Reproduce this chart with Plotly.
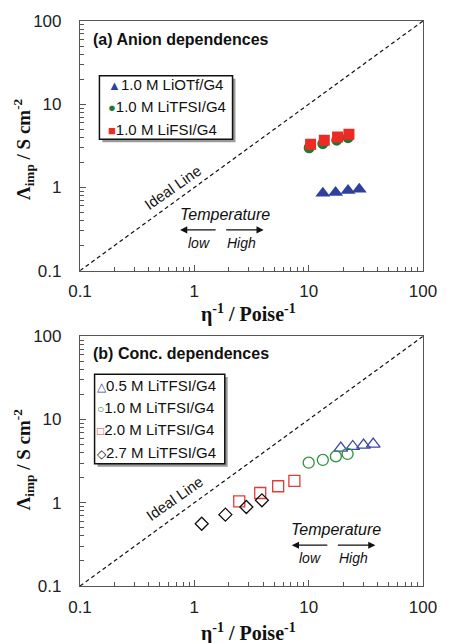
import plotly.graph_objects as go

# ---- data: Walden-type plot, molar conductivity vs. fluidity ----
# (a) anion dependence, 1.0 M salts in G4
a_names = ["1.0 M LiOTf/G4", "1.0 M LiTFSI/G4", "1.0 M LiFSI/G4"]
a_otf_x = [13.3, 17.2, 22.1, 27.7]
a_otf_y = [0.85, 0.87, 0.92, 0.95]
a_tfsi_x = [10.1, 13.3, 17.6, 22.1]
a_tfsi_y = [3.0, 3.36, 3.7, 3.96]
a_fsi_x = [10.4, 13.7, 17.9, 22.5]
a_fsi_y = [3.3, 3.68, 4.03, 4.37]

# (b) concentration dependence, LiTFSI in G4
b_names = ["0.5 M LiTFSI/G4", "1.0 M LiTFSI/G4", "2.0 M LiTFSI/G4", "2.7 M LiTFSI/G4"]
b_05_x = [19.1, 24.3, 30.2, 36.7]
b_05_y = [4.54, 4.75, 4.93, 5.07]
b_10_x = [10.0, 13.3, 17.3, 21.9]
b_10_y = [3.03, 3.27, 3.61, 3.86]
b_20_x = [2.47, 3.77, 5.41, 7.5]
b_20_y = [1.04, 1.31, 1.58, 1.83]
b_27_x = [1.16, 1.87, 2.85, 3.90]
b_27_y = [0.56, 0.72, 0.89, 1.07]

# ideal Walden line (slope 1 through the origin of the log-log frame)
ideal = [0.1, 100]

tick_vals = [0.1, 1, 10, 100]
tick_text = ["0.1", "1", "10", "100"]

# ---- figure geometry (pixels) ----
W, H = 449, 643
ML, MR, MT, MB = 80, 16, 18, 57
PW, PH = W - ML - MR, H - MT - MB


def px(X):
    return (X - ML) / PW


def py(Y):
    return 1 - (Y - MT) / PH


SANS = "Liberation Sans, Arial, sans-serif"
SERIF = "Liberation Serif, Times New Roman, serif"
AXIS_COLOR = "#555555"

minor_vals = [k * 10 ** e for e in (-1, 0, 1) for k in range(2, 10)]

fig = go.Figure()

panels = [
    ("x", "y", [
        (a_otf_x, a_otf_y, a_names[0], "triangle-up", "#2f3f9e", 13, 0),
        (a_tfsi_x, a_tfsi_y, a_names[1], "circle", "#1c7a33", 11, 0),
        (a_fsi_x, a_fsi_y, a_names[2], "square", "#ee2a24", 11, 0),
    ]),
    ("x2", "y2", [
        (b_05_x, b_05_y, b_names[0], "triangle-up-open", "#3a48aa", 12, 1.3),
        (b_10_x, b_10_y, b_names[1], "circle-open", "#2e9040", 11, 1.3),
        (b_20_x, b_20_y, b_names[2], "square-open", "#e53a3a", 11, 1.3),
        (b_27_x, b_27_y, b_names[3], "diamond-open", "#111111", 10, 1.3),
    ]),
]

for xa, ya, series in panels:
    fig.add_trace(go.Scatter(
        x=ideal, y=ideal, mode="lines", xaxis=xa, yaxis=ya,
        line=dict(color="#111111", width=1.2, dash="4px,3px"),
        showlegend=False, hoverinfo="skip"))
    for xs, ys, name, sym, col, size, lw in series:
        fig.add_trace(go.Scatter(
            x=xs, y=ys, mode="markers", name=name, xaxis=xa, yaxis=ya,
            marker=dict(symbol=sym, color=col, size=size,
                        line=dict(color=col, width=lw)),
            showlegend=False))

axis_common = dict(
    type="log", range=[-1, 2], showgrid=False, zeroline=False,
    showline=True, linecolor=AXIS_COLOR, linewidth=1.2, mirror=True,
    ticks="inside", ticklen=6, tickwidth=1, tickcolor=AXIS_COLOR,
    tickvals=tick_vals, ticktext=tick_text,
    tickfont=dict(family=SANS, size=17, color="#222222"),
    minor=dict(tickvals=minor_vals, ticks="inside", ticklen=4,
               tickwidth=1, tickcolor=AXIS_COLOR),
)

top_dom = [py(269), 1.0]
bot_dom = [0.0, py(335)]

fig.update_layout(
    width=W, height=H,
    margin=dict(l=ML, r=MR, t=MT, b=MB, pad=0),
    paper_bgcolor="white", plot_bgcolor="white",
    showlegend=False,
    xaxis=dict(axis_common, anchor="y", ticklabelstandoff=5),
    yaxis=dict(axis_common, anchor="x", domain=top_dom, ticklabelstandoff=14),
    xaxis2=dict(axis_common, anchor="y2", ticklabelstandoff=5),
    yaxis2=dict(axis_common, anchor="x2", domain=bot_dom, ticklabelstandoff=14),
)

ann = []
shapes = []


def text(X, Y, s, size=14, family=SANS, angle=0, xanchor="center", color="#111111"):
    ann.append(dict(x=px(X), y=py(Y), xref="paper", yref="paper", text=s,
                    showarrow=False, xanchor=xanchor, yanchor="middle",
                    textangle=angle, font=dict(family=family, size=size, color=color)))


def arrow(X_head, X_tail, Y):
    ann.append(dict(x=px(X_head), y=py(Y), xref="paper", yref="paper", text="",
                    showarrow=True, ax=X_tail - X_head, ay=0,
                    arrowhead=2, arrowsize=1.1, arrowwidth=1.3, arrowcolor="#111111"))


def legend_box(X0, Y0, X1, Y1):
    shapes.append(dict(type="rect", xref="paper", yref="paper",
                       x0=px(X0 + 3), x1=px(X1 + 3), y0=py(Y0 + 3), y1=py(Y1 + 3),
                       fillcolor="#9a9a9a", line=dict(width=0), layer="above"))
    shapes.append(dict(type="rect", xref="paper", yref="paper",
                       x0=px(X0), x1=px(X1), y0=py(Y0), y1=py(Y1),
                       fillcolor="white", line=dict(color="#111111", width=1.5),
                       layer="above"))


def legend_rows(X, Ys, names, glyphs, colors, gsize):
    for Y, name, g, c in zip(Ys, names, glyphs, colors):
        s = f'<span style="color:{c};font-size:{gsize}px">{g}</span>{name}'
        text(X, Y, s, size=15, xanchor="left")


# panel (a)
text(91, 37, "<b>(a) Anion dependences</b>", size=16, xanchor="left")
legend_box(100, 73, 237, 137)
legend_rows(107, [82, 104, 127], a_names, ["▲", "●", "■"],
            ["#2f3f9e", "#1c7a33", "#ee2a24"], 13)
text(175, 185, "Ideal Line", size=15, angle=-35)
text(229, 213, "<i>Temperature</i>", size=16)
arrow(183, 220, 228)
arrow(269, 230, 228)
text(202, 241, "<i>low</i>", size=14)
text(246, 241, "<i>High</i>", size=14)
text(22, 147, "<b>Λ<sub>imp</sub> / S cm<sup>-2</sup></b>", size=19, family=SERIF, angle=-90)
text(253, 312, "<b>η<sup>-1</sup> / Poise<sup>-1</sup></b>", size=20, family=SERIF)

# panel (b)
text(91, 352, "<b>(b) Conc. dependences</b>", size=16, xanchor="left")
legend_box(95, 373, 229, 463)
legend_rows(95, [384, 407, 429, 452], b_names, ["△", "○", "□", "◇"],
            ["#3a48aa", "#2e9040", "#e53a3a", "#111111"], 12)
text(177, 498, "Ideal Line", size=15, angle=-35)
text(343, 529, "<i>Temperature</i>", size=16)
arrow(298, 335, 545)
arrow(384, 345, 545)
text(317, 558, "<i>low</i>", size=14)
text(361, 558, "<i>High</i>", size=14)
text(22, 459, "<b>Λ<sub>imp</sub> / S cm<sup>-2</sup></b>", size=19, family=SERIF, angle=-90)
text(253, 633, "<b>η<sup>-1</sup> / Poise<sup>-1</sup></b>", size=20, family=SERIF)

fig.update_layout(annotations=ann, shapes=shapes)
fig.write_html("out.html")
